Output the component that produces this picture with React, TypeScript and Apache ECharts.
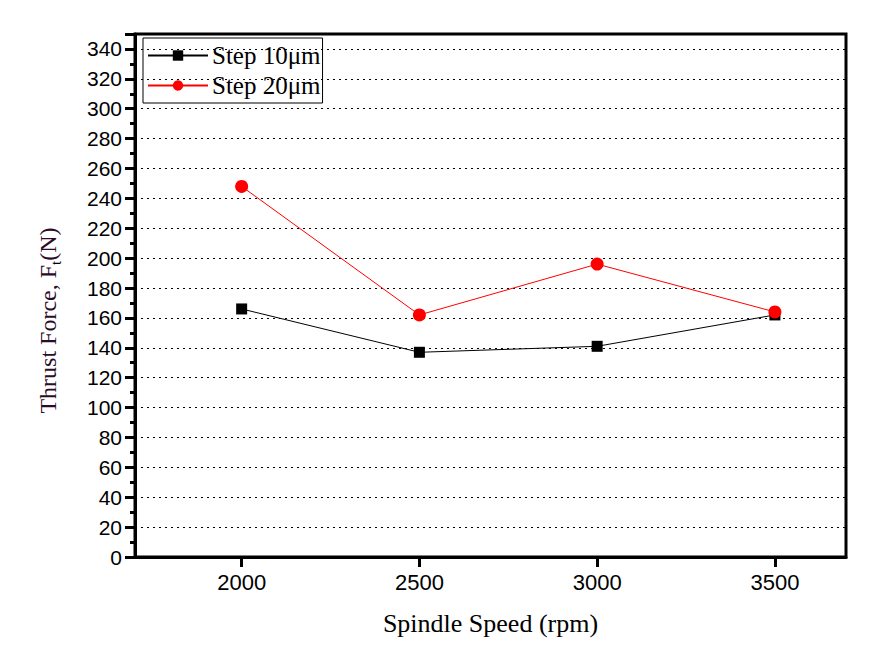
import React, { useEffect, useRef } from "react";
import * as echarts from "echarts";

const speeds = [2000, 2500, 3000, 3500];
const step10 = [166, 137, 141, 162];
const step20 = [248, 162, 196, 164];
const seriesNames = ["Step 10μm", "Step 20μm"];

export default function App() {
  const ref = useRef<HTMLDivElement>(null);
  useEffect(() => {
    if (!ref.current) return;
    const chart = echarts.init(ref.current, null, { renderer: "svg" });
    const serif = "'Liberation Serif', 'Times New Roman', serif";
    const sans = "'Liberation Sans', Arial, sans-serif";
    chart.setOption({
      animation: false,
      backgroundColor: "#fff",
      grid: {
        left: 135,
        top: 34,
        right: 31,
        bottom: 94,
        show: true,
        borderColor: "#000",
        borderWidth: 3,
      },
      legend: {
        left: 143,
        top: 38,
        orient: "vertical",
        borderColor: "#000",
        borderWidth: 1,
        padding: [5, 2, 5, 4],
        itemGap: 5,
        itemWidth: 60,
        itemHeight: 13,
        textStyle: { fontFamily: serif, fontSize: 25, color: "#000", padding: [0, 0, 0, -1] },
        data: seriesNames,
      },
      xAxis: {
        type: "value",
        min: 1700,
        max: 3700,
        interval: 100,
        name: "Spindle Speed (rpm)",
        nameLocation: "middle",
        nameGap: 53,
        nameTextStyle: { fontFamily: serif, fontSize: 26, color: "#000" },
        axisLine: { show: true, lineStyle: { color: "#000", width: 3 } },
        axisTick: {
          show: true,
          length: 10,
          lineStyle: { color: "#000", width: 3 },
          customValues: speeds,
        },
        axisLabel: {
          customValues: speeds,
          formatter: (v: number) => String(v),
          margin: 14,
          fontFamily: sans,
          fontSize: 22,
          color: "#000",
        },
        splitLine: { show: false },
      },
      yAxis: {
        type: "value",
        min: 0,
        max: 350,
        interval: 20,
        name: "{a|Thrust Force, F}{s|t}{a|(N)}",
        nameLocation: "middle",
        nameGap: 72,
        nameTextStyle: {
          fontFamily: serif,
          fontSize: 24,
          color: "#000",
          padding: [0, 50, 0, 0],
          rich: {
            a: { fontFamily: serif, fontSize: 24, color: "#2a0c2a" },
            s: { fontFamily: serif, fontSize: 15, color: "#000", verticalAlign: "bottom", padding: [15, 0, 0, 0] },
          },
        },
        axisLine: { show: true, lineStyle: { color: "#000", width: 3 } },
        axisTick: { show: true, length: 10, lineStyle: { color: "#000", width: 3 } },
        minorTick: { show: true, splitNumber: 2, length: 5, lineStyle: { color: "#000", width: 3 } },
        axisLabel: {
          showMaxLabel: false,
          margin: 13,
          fontFamily: sans,
          fontSize: 21,
          color: "#000",
        },
        splitLine: { show: true, lineStyle: { color: "#000", type: [2, 4], width: 1 } },
      },
      series: [
        {
          name: seriesNames[0],
          type: "line",
          data: speeds.map((s, i) => [s, step10[i]]),
          symbol: "rect",
          symbolSize: 11,
          itemStyle: { color: "#000" },
          lineStyle: { color: "#000", width: 1 },
        },
        {
          name: seriesNames[1],
          type: "line",
          data: speeds.map((s, i) => [s, step20[i]]),
          symbol: "circle",
          symbolSize: 13,
          itemStyle: { color: "#ff0000" },
          lineStyle: { color: "#ff0000", width: 1 },
        },
      ],
    });
    return () => chart.dispose();
  }, []);
  return <div ref={ref} style={{ width: 877, height: 651, position: "absolute", left: 0, top: 0 }} />;
}
